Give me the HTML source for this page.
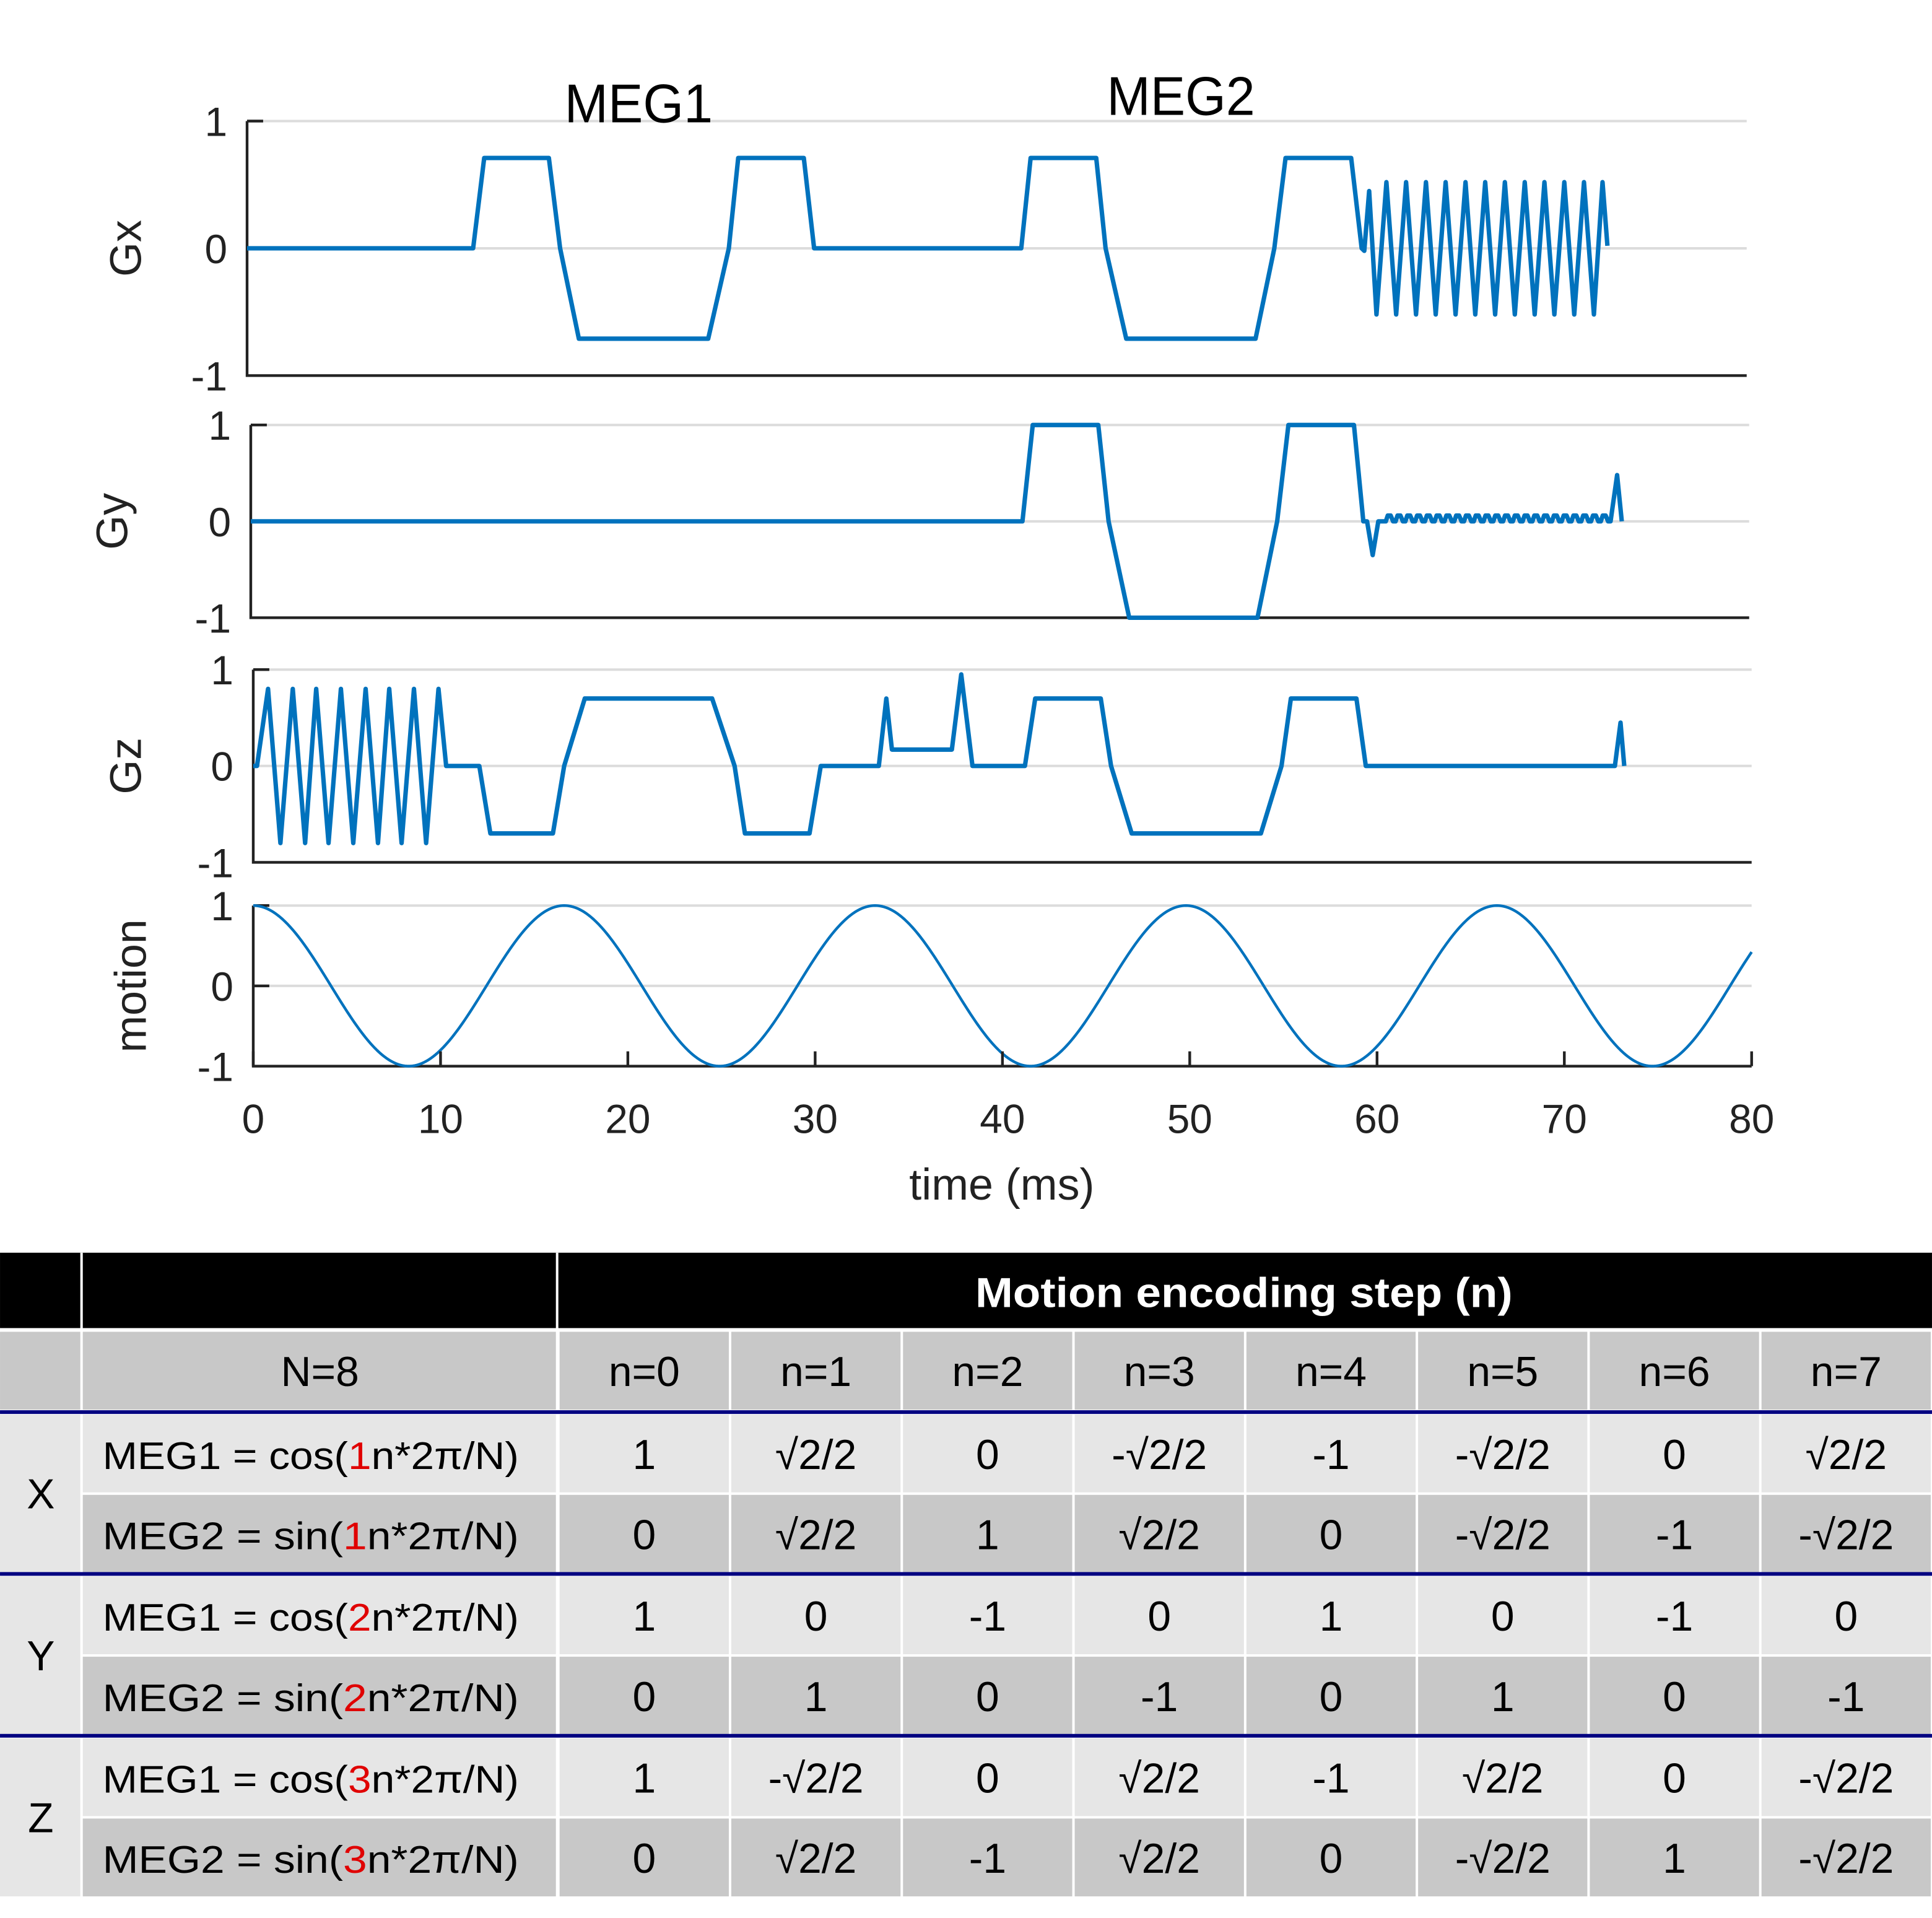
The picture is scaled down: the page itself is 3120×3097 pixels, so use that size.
<!DOCTYPE html>
<html><head><meta charset="utf-8">
<style>
html,body{margin:0;padding:0;background:#fff;}
svg{display:block;}
text{font-family:"Liberation Sans",sans-serif;}
.tb{font-family:"Liberation Sans Narrow","Liberation Sans",sans-serif;}
</style></head>
<body>
<svg id="fig" width="3120" height="3097" viewBox="0 0 1564 1552.5" xmlns="http://www.w3.org/2000/svg">
<rect x="0" y="0" width="1564" height="1553" fill="#fff"/>
<g id="charts"></g>
<g id="table"></g>
</svg>
<script>
// ---------- chart data (time in ms, amplitude normalized) ----------
const gxTimes = [0,12.06,12.65,16.1,16.7,17.7,24.6,25.7,26.2,29.7,30.25,41.3,41.8,45.3,45.8,46.9,53.8,54.8,55.4,58.9,59.46,59.6,59.86,60.25];
const gxValues = [0,0,0.71,0.71,0,-0.71,-0.71,0,0.71,0.71,0,0,0.71,0.71,0,-0.71,-0.71,0,0.71,0.71,0,-0.02,0.45,-0.52];
const gxOscUpTimes = [60.78,61.83,62.89,63.94,65.0,66.05,67.1,68.16,69.21,70.27,71.32,72.31];
const gxOscDownTimes = [61.3,62.36,63.41,64.47,65.52,66.58,67.63,68.69,69.74,70.8,71.85];
const gxOscAmp = [0.52,-0.52];
const gxEnd = [72.57,0.02];

const gyTimes = [0,41.2,41.75,45.25,45.8,46.9,53.75,54.8,55.4,58.9,59.4,59.6,59.9,60.2,60.6];
const gyValues = [0,0,1,1,0,-1,-1,0,1,1,0,0,-0.35,0,0];
const gyRippleTimes = [61.0,61.6,62.2,62.8,63.4,64.0,64.6,65.2,65.8,66.4,67.0,67.6,68.2,68.8,69.4,70.0,70.6,71.2,71.8,72.4,73.0,73.6,74.2].map(t=>t*0+t); 
const gyRippleAmp = [0.06];
const gyTailTimes = [72.6,72.95,73.2];
const gyTailValues = [0,0.48,0];

const gzTimes = [0,0.2,0.79,1.45,2.11,2.77,3.36,4.02,4.68,5.34,6.0,6.66,7.26,7.92,8.58,9.23,9.89,10.3,12.07,12.66,16.0,16.6,17.7,24.5,25.7,26.25,29.7,30.3,33.4,33.8,34.1,37.3,37.8,38.4,41.2,41.75,45.25,45.8,46.9,53.8,54.9,55.4,58.9,59.4,72.7,73.0,73.2];
const gzValues = [0,0,0.8,-0.8,0.8,-0.8,0.8,-0.8,0.8,-0.8,0.8,-0.8,0.8,-0.8,0.8,-0.8,0.8,0,0,-0.7,-0.7,0,0.7,0.7,0,-0.7,-0.7,0,0,0.7,0.17,0.17,0.95,0,0,0.7,0.7,0,-0.7,-0.7,0,0.7,0.7,0,0,0.45,0];

const motionPeriodMs = [16.6];
const motionAmplitude = [1];

const xTickLabels = ["0","10","20","30","40","50","60","70","80"];
const yTickLabels = ["1","0","-1"];
const panelNames = ["Gx","Gy","Gz","motion"];

// ---------- layout ----------
const NS="http://www.w3.org/2000/svg";
const charts=document.getElementById('charts');
function mk(tag,attrs,parent){const e=document.createElementNS(NS,tag);for(const k in attrs)e.setAttribute(k,attrs[k]);(parent||charts).appendChild(e);return e;}
const panels=[
 {x0:200,x1:1414,top:98,zero:201,bot:304,name:'gx-panel'},
 {x0:203,x1:1416,top:344,zero:422,bot:500,name:'gy-panel'},
 {x0:205,x1:1418,top:542,zero:620,bot:698,name:'gz-panel'},
 {x0:205,x1:1418,top:733,zero:798,bot:863,name:'motion-panel'}
];
function xs(p,t){return p.x0+(p.x1-p.x0)*t/80;}
function ys(p,v){return p.zero-(p.zero-p.top)*v;}

panels.forEach((p,i)=>{
 const g=mk('g',{});
 
 
 [p.top,p.zero].forEach(y=>{const l=mk('line',{x1:p.x0,x2:p.x1,y1:y,y2:y,stroke:'#dcdcdc','stroke-width':2},g);
  });
 const ax=mk('path',{d:`M${p.x0},${p.top} V${p.bot} H${p.x1}`,fill:'none',stroke:'#222','stroke-width':2.2},g);
 
 const tk=mk('line',{x1:p.x0,x2:p.x0+13,y1:p.top,y2:p.top,stroke:'#222','stroke-width':2.2},g);
 
 if(i===3){const tk2=mk('line',{x1:p.x0,x2:p.x0+13,y1:p.zero,y2:p.zero,stroke:'#222','stroke-width':2.2},g);
  }
 [p.top,p.zero,p.bot].forEach((y,k)=>{const t=mk('text',{x:p.x0-16,y:y+12,'text-anchor':'end','font-size':33,fill:'#222'},g);
  t.textContent=yTickLabels[k];});
 const yl=mk('text',{transform:`translate(${i===3?118:(i===1?103:114)},${i===3?798:p.zero}) rotate(-90)`,'text-anchor':'middle','font-size':36,fill:'#222'},g);
 yl.textContent=panelNames[i];
 p.g=g;
});

function drawLine(p,pts,name,w){
 const d=pts.map((q,i)=>(i?'L':'M')+xs(p,q[0]).toFixed(2)+','+ys(p,q[1]).toFixed(2)).join(' ');
 const e=mk('path',{d:d,fill:'none',stroke:'#0072bd','stroke-width':w,'stroke-linejoin':'round'},p.g);
 
}
// Gx
let gx=gxTimes.map((t,i)=>[t,gxValues[i]]);
gxOscUpTimes.forEach((t,i)=>{gx.push([t,gxOscAmp[0]]);if(i<gxOscDownTimes.length)gx.push([gxOscDownTimes[i],gxOscAmp[1]]);});
gx.push(gxEnd);
drawLine(panels[0],gx,'gx-waveform',3.6);
// Gy
let gy=gyTimes.map((t,i)=>[t,gyValues[i]]);
const rStart=60.6, rEnd=72.6, nR=gyRippleTimes.length, step=(rEnd-rStart)/nR;
for(let k=0;k<nR;k++){const a=rStart+k*step;gy.push([a+step*0.2,gyRippleAmp[0]]);gy.push([a+step*0.5,gyRippleAmp[0]]);gy.push([a+step*0.75,0]);gy.push([a+step,0]);}
gyTailTimes.forEach((t,i)=>gy.push([t,gyTailValues[i]]));
drawLine(panels[1],gy,'gy-waveform',3.6);
// Gz
drawLine(panels[2],gzTimes.map((t,i)=>[t,gzValues[i]]),'gz-waveform',3.6);
// motion
const mp=[];for(let t=0;t<=80;t+=0.1)mp.push([t,motionAmplitude[0]*Math.cos(2*Math.PI*t/motionPeriodMs[0])]);
drawLine(panels[3],mp,'motion-curve',2.2);

// x ticks
const P=panels[3];
xTickLabels.forEach((lab,i)=>{const t=+lab;const x=xs(P,t);
 const l=mk('line',{x1:x,x2:x,y1:P.bot,y2:P.bot-12,stroke:'#222','stroke-width':2.2},P.g);
 
 const tx=mk('text',{x:x,y:917,'text-anchor':'middle','font-size':33,fill:'#222'},P.g);
 tx.textContent=lab;});
const xt=mk('text',{x:811,y:971,'text-anchor':'middle','font-size':36,fill:'#222'});
xt.textContent='time (ms)';
const m1=mk('text',{x:517,y:99,'text-anchor':'middle','font-size':44,fill:'#000',class:'tb',textLength:120,lengthAdjust:'spacingAndGlyphs'});
m1.textContent='MEG1';
const m2=mk('text',{x:956,y:93,'text-anchor':'middle','font-size':44,fill:'#000',class:'tb',textLength:120,lengthAdjust:'spacingAndGlyphs'});
m2.textContent='MEG2';

// ---------- table ----------
const tb=document.getElementById('table');
function tk(tag,attrs){return mk(tag,attrs,tb);}
const colX=[452,591,730,869,1008,1147,1286,1425,1564];
tk('rect',{x:0,y:1014,width:1564,height:61,fill:'#000'});
tk('line',{x1:66,x2:66,y1:1014,y2:1075,stroke:'#fff','stroke-width':2});
tk('line',{x1:451,x2:451,y1:1014,y2:1075,stroke:'#fff','stroke-width':2});
const hd=tk('text',{x:1007,y:1058,'text-anchor':'middle','font-size':34,'font-weight':'bold',fill:'#fff',class:'tb',textLength:435,lengthAdjust:'spacingAndGlyphs'});
hd.textContent='Motion encoding step (n)';
const rowsY=[1078,1145,1210,1276,1341,1407,1472];
const rowsH=[63,63,63,63,63,63,63];
const fills=['#c8c8c8','#e6e6e6','#c8c8c8','#e6e6e6','#c8c8c8','#e6e6e6','#c8c8c8'];
const hdrs=['N=8','n=0','n=1','n=2','n=3','n=4','n=5','n=6','n=7'];
const formulas=[['MEG1 = cos(','1','n*2π/N)'],['MEG2 = sin(','1','n*2π/N)'],['MEG1 = cos(','2','n*2π/N)'],['MEG2 = sin(','2','n*2π/N)'],['MEG1 = cos(','3','n*2π/N)'],['MEG2 = sin(','3','n*2π/N)']];
const vals=[
['1','√2/2','0','-√2/2','-1','-√2/2','0','√2/2'],
['0','√2/2','1','√2/2','0','-√2/2','-1','-√2/2'],
['1','0','-1','0','1','0','-1','0'],
['0','1','0','-1','0','1','0','-1'],
['1','-√2/2','0','√2/2','-1','√2/2','0','-√2/2'],
['0','√2/2','-1','√2/2','0','-√2/2','1','-√2/2']];
// first column
tk('rect',{x:0,y:1078,width:65,height:63,fill:'#c8c8c8'});
[1145,1276,1407].forEach((y,k)=>{tk('rect',{x:0,y:y,width:65,height:128,fill:'#e6e6e6'});
 const t=tk('text',{x:33,y:y+76,'text-anchor':'middle','font-size':34,fill:'#000',class:'tb'});t.textContent=['X','Y','Z'][k];
 });
rowsY.forEach((y,r)=>{
 tk('rect',{x:67,y:y,width:383,height:rowsH[r],fill:fills[r]});
 for(let c=0;c<8;c++)tk('rect',{x:colX[c]+1,y:y,width:colX[c+1]-colX[c]-2,height:rowsH[r],fill:fills[r]});
 const cy=y+44;
 if(r===0){const t=tk('text',{x:259,y:cy,'text-anchor':'middle','font-size':34,fill:'#000',class:'tb'});t.textContent=hdrs[0];
   
   for(let c=0;c<8;c++){const e=tk('text',{x:(colX[c]+colX[c+1])/2,y:cy,'text-anchor':'middle','font-size':34,fill:'#000',class:'tb'});e.textContent=hdrs[c+1];
   }}
 else{const f=formulas[r-1];const t=tk('text',{x:83,y:cy,'font-size':31,fill:'#000',class:'tb',textLength:337,lengthAdjust:'spacingAndGlyphs'});
   const a=document.createElementNS(NS,'tspan');a.textContent=f[0];t.appendChild(a);
   const b=document.createElementNS(NS,'tspan');b.setAttribute('fill','#e00000');b.textContent=f[1];t.appendChild(b);
   const c2=document.createElementNS(NS,'tspan');c2.textContent=f[2];t.appendChild(c2);
   
   for(let c=0;c<8;c++){const e=tk('text',{x:(colX[c]+colX[c+1])/2,y:cy,'text-anchor':'middle','font-size':34,fill:'#000',class:'tb'});e.textContent=vals[r-1][c];
   }}
});
[1143,1274,1405].forEach(y=>{tk('rect',{x:0,y:y-1.5,width:1564,height:3,fill:'#000080'});});
</script>
</body></html>
